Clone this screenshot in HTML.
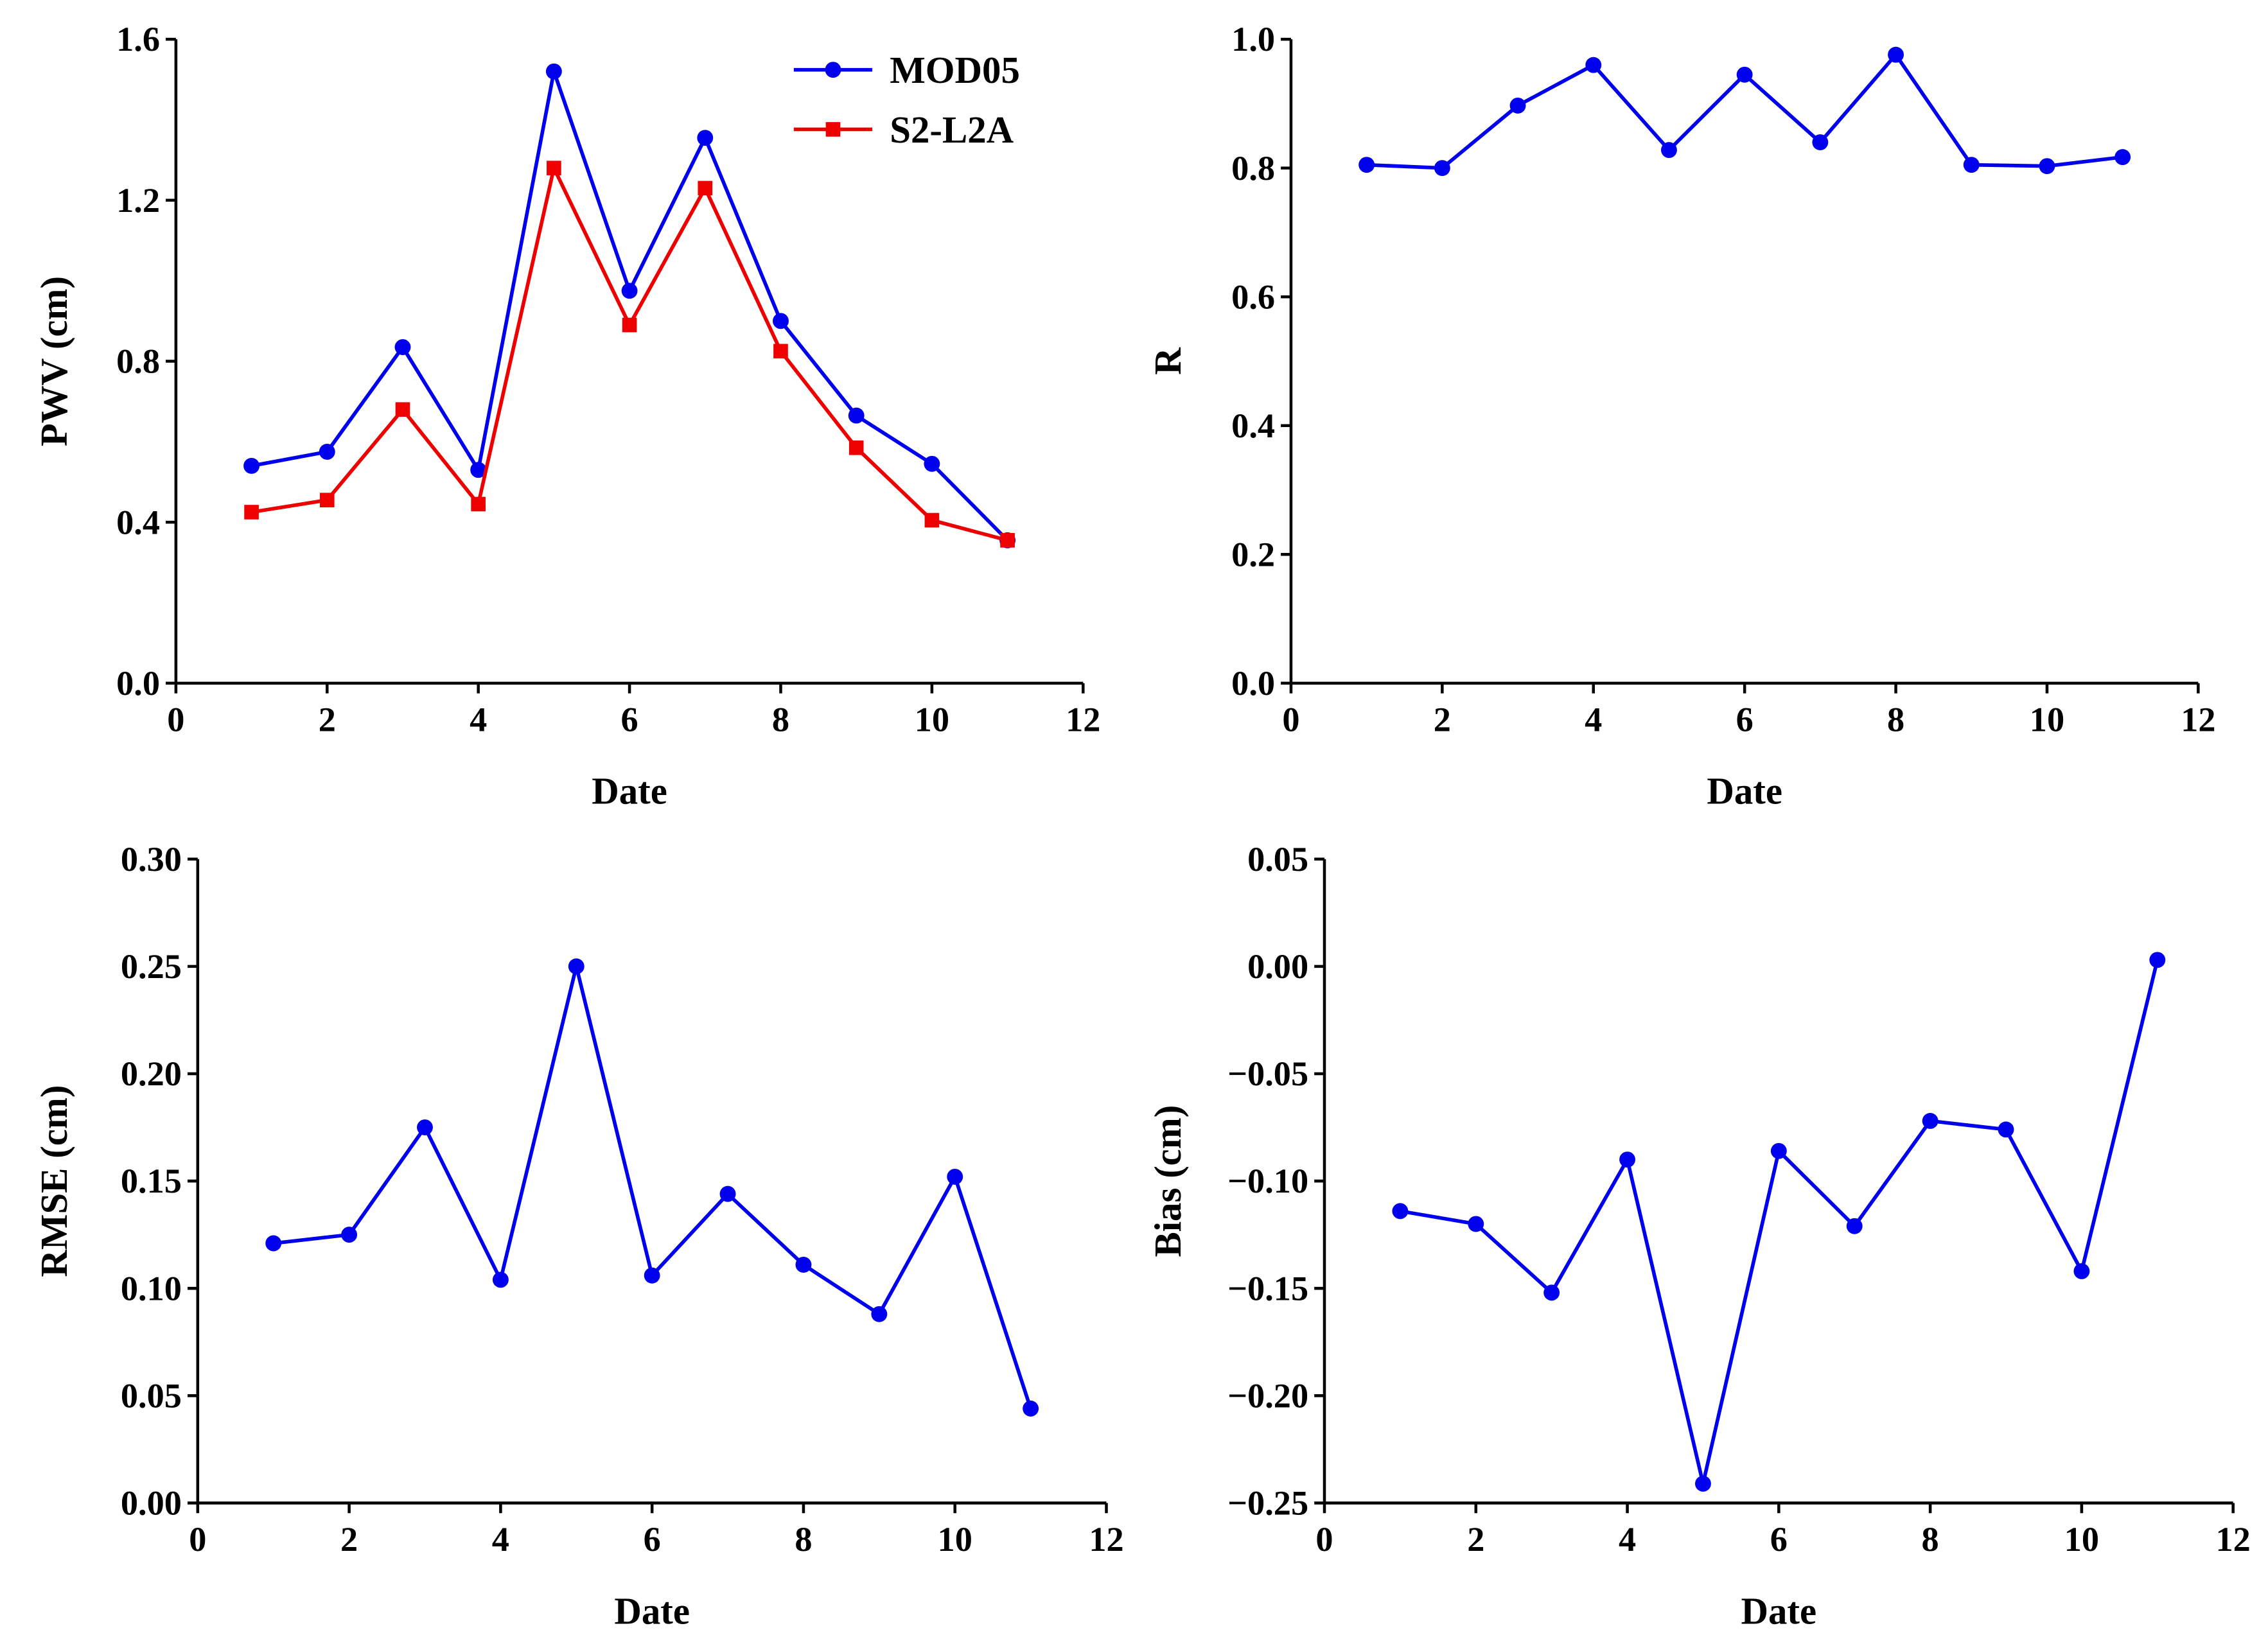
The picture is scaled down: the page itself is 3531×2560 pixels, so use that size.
<!DOCTYPE html>
<html><head><meta charset="utf-8">
<style>
html,body{margin:0;padding:0;background:#fff;}
svg{display:block;}
text{font-family:"Liberation Serif",serif;font-weight:bold;fill:#000;}
</style></head>
<body>
<svg id="chart" xmlns="http://www.w3.org/2000/svg" width="3531" height="2560" viewBox="0 0 1560 1131"></svg>
<script>
const dates = [1,2,3,4,5,6,7,8,9,10,11];
const pwvMod05 = [0.54,0.575,0.835,0.53,1.52,0.975,1.355,0.9,0.665,0.545,0.355];
const pwvS2 = [0.425,0.455,0.68,0.445,1.28,0.89,1.23,0.825,0.585,0.405,0.355];
const rValues = [0.805,0.8,0.897,0.96,0.828,0.945,0.84,0.976,0.805,0.803,0.817];
const rmseValues = [0.121,0.125,0.175,0.104,0.25,0.106,0.144,0.111,0.088,0.152,0.044];
const biasValues = [-0.114,-0.12,-0.152,-0.09,-0.241,-0.086,-0.121,-0.072,-0.076,-0.142,0.003];
const xTicks = [0,2,4,6,8,10,12];
const pwvTicks = [0.0,0.4,0.8,1.2,1.6];
const rTicks = [0.0,0.2,0.4,0.6,0.8,1.0];
const rmseTicks = [0.00,0.05,0.10,0.15,0.20,0.25,0.30];
const biasTicks = [-0.25,-0.20,-0.15,-0.10,-0.05,0.00,0.05];

const NS="http://www.w3.org/2000/svg";
const svg=document.getElementById('chart');
function mk(tag,attrs,parent){const e=document.createElementNS(NS,tag);for(const k in attrs)e.setAttribute(k,attrs[k]);(parent||svg).appendChild(e);return e;}

function panel(p){
  const g=mk('g',{});
  
  
  const sx=v=>p.x0+(v-0)/(12-0)*(p.x1-p.x0);
  const sy=v=>p.yb+(v-p.ymin)/(p.ymax-p.ymin)*(p.yt-p.yb);
  const ax=mk('path',{d:`M${p.x0},${p.yt} L${p.x0},${p.yb} L${p.x1},${p.yb}`,fill:'none',stroke:'#000','stroke-width':2},g);
  
  
  xTicks.forEach(t=>{
    const x=sx(t);
    mk('line',{x1:x,y1:p.yb,x2:x,y2:p.yb+7,stroke:'#000','stroke-width':2},g);
    const tx=mk('text',{x:x,y:p.yb+33,'text-anchor':'middle','font-size':24},g);
    tx.textContent=t;
    
    
  });
  p.ticks.forEach(t=>{
    const y=sy(t);
    mk('line',{x1:p.x0-7,y1:y,x2:p.x0,y2:y,stroke:'#000','stroke-width':2},g);
    const tx=mk('text',{x:p.x0-11,y:y+8,'text-anchor':'end','font-size':24},g);
    tx.textContent=(t<0?'\u2212':'')+Math.abs(t).toFixed(p.dec);
    
    
  });
  const xt=mk('text',{x:(p.x0+p.x1)/2,y:p.yb+83,'text-anchor':'middle','font-size':26},g);
  xt.textContent='Date';
  
  
  const yt=mk('text',{x:0,y:0,'text-anchor':'middle','font-size':26,transform:`translate(${p.ytx},${(p.yt+p.yb)/2}) rotate(-90)`},g);
  yt.textContent=p.ylabel;
  
  
  p.series.forEach(s=>{
    const pts=dates.map((d,i)=>`${sx(d)},${sy(s.vals[i])}`).join(' ');
    const pl=mk('polyline',{points:pts,fill:'none',stroke:s.color,'stroke-width':2.5},g);
    
    
    dates.forEach((d,i)=>{
      let m;
      if(s.marker==='square') m=mk('rect',{x:sx(d)-5,y:sy(s.vals[i])-5,width:10,height:10,fill:s.color},g);
      else m=mk('circle',{cx:sx(d),cy:sy(s.vals[i]),r:5.5,fill:s.color},g);
      
      
    });
  });
  return g;
}

panel({name:'pwv-panel',x0:121,x1:745,yb:470,yt:27,ymin:0,ymax:1.6,ticks:pwvTicks,dec:1,ylabel:'PWV (cm)',ytx:46,
  series:[{name:'mod05',vals:pwvMod05,color:'#0000ee',marker:'circle'},{name:'s2-l2a',vals:pwvS2,color:'#ee0000',marker:'square'}]});
panel({name:'r-panel',x0:888,x1:1512,yb:470,yt:27,ymin:0,ymax:1.0,ticks:rTicks,dec:1,ylabel:'R',ytx:812,
  series:[{name:'r',vals:rValues,color:'#0000ee',marker:'circle'}]});
panel({name:'rmse-panel',x0:136,x1:761,yb:1034,yt:591,ymin:0,ymax:0.3,ticks:rmseTicks,dec:2,ylabel:'RMSE (cm)',ytx:46,
  series:[{name:'rmse',vals:rmseValues,color:'#0000ee',marker:'circle'}]});
panel({name:'bias-panel',x0:911,x1:1536,yb:1034,yt:591,ymin:-0.25,ymax:0.05,ticks:biasTicks,dec:2,ylabel:'Bias (cm)',ytx:812,
  series:[{name:'bias',vals:biasValues,color:'#0000ee',marker:'circle'}]});

const lg=mk('g',{});


[['MOD05','#0000ee','circle',48],['S2-L2A','#ee0000','square',89]].forEach(([lab,c,mkType,y])=>{
  const e=mk('g',{},lg);
  
  
  mk('line',{x1:546,y1:y,x2:600,y2:y,stroke:c,'stroke-width':2.5},e);
  if(mkType==='square') mk('rect',{x:568,y:y-5,width:10,height:10,fill:c},e);
  else mk('circle',{cx:573,cy:y,r:5.5,fill:c},e);
  const t=mk('text',{x:612,y:y+9,'font-size':26},e);
  t.textContent=lab;
});
</script>
</body></html>
